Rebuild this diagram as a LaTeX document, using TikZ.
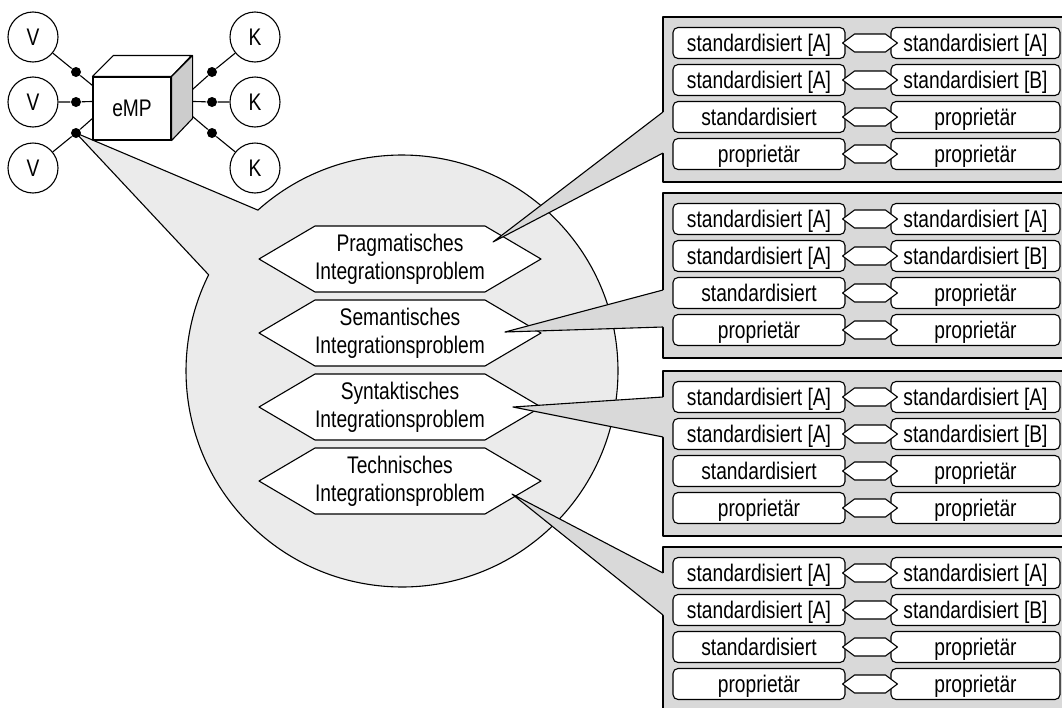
\documentclass[tikz,border=0pt]{standalone}
\usepackage{fontspec}
\setmainfont{Liberation Sans}[FakeStretch=0.8]
\usetikzlibrary{calc}
\definecolor{panelgray}{HTML}{D9D9D9}
\definecolor{circgray}{HTML}{EBEBEB}
\definecolor{facegray}{HTML}{CCCCCC}
\begin{document}
\begin{tikzpicture}[x=1pt,y=-1pt,line width=1.1pt,line join=round,
  every node/.style={font=\fontsize{24}{28}\selectfont},
  actor/.style={circle,draw,fill=white,minimum size=50pt,inner sep=0pt},
  joint/.style={circle,fill=black,minimum size=10pt,inner sep=0pt},
  rbox/.style={draw,fill=white,rounded corners=5pt,minimum height=31pt,inner sep=0pt,text height=17pt,text depth=0pt},
  hexa/.style={draw,fill=white},
  callout/.style={draw,fill=circgray},
  pointer/.style={fill=panelgray}]
\useasboundingbox (0,0) rectangle (1062,707);
\clip (0,0) rectangle (1062,707);

% big callout circle with wedge
\coordinate (C) at (402,371);
\coordinate (d3pos) at (76,133);
\path[callout] (d3pos) -- ($(C)+(228.15:216)$) arc[start angle=228.15,end angle=566.45,radius=216] -- cycle;

% actors
\node[actor] (V1) at (33,37) {V};
\node[actor] (V2) at (33,102) {V};
\node[actor] (V3) at (33,168) {V};
\node[actor] (K1) at (255,37) {K};
\node[actor] (K2) at (255,102) {K};
\node[actor] (K3) at (255,168) {K};

% cube
\node[draw,fill=white,minimum width=78pt,minimum height=63pt,inner sep=0pt] (emp) at (132,108.5) {};
\draw[fill=white] (emp.north west) -- ++(21,-21) -- ++(78,0) -- (emp.north east) -- cycle;
\draw[fill=facegray] (emp.north east) -- ++(21,-21) -- ++(0,63) -- (emp.south east) -- cycle;
\node at (emp) {eMP};

% joints
\node[joint] (d1) at (76,72) {};
\node[joint] (d2) at (76,102) {};
\node[joint] (d3) at (d3pos) {};
\node[joint] (e1) at (212,72) {};
\node[joint] (e2) at (212,102) {};
\node[joint] (e3) at (212,133) {};
\coordinate (eL1) at ($(emp.north west)+(0,9)$);
\coordinate (eL2) at ($(emp.north west)+(0,25)$);
\coordinate (eL3) at ($(emp.north west)+(0,42)$);
\coordinate (eR1) at ($(emp.north east)+(21,13)$);
\coordinate (eR2) at ($(emp.north east)+(21,25)$);
\coordinate (eR3) at ($(emp.north east)+(21,40)$);
\draw (V1) -- (d1) -- (eL1);
\draw (V2) -- (d2) -- (eL2);
\draw (V3) -- (d3) -- (eL3);
\draw (K1) -- (e1) -- (eR1);
\draw (K2) -- (e2) -- (eR2);
\draw (K3) -- (e3) -- (eR3);

% hexagons
\foreach \hy/\ta/\tb [count=\i] in {259/Pragmatisches/Integrationsproblem,333/Semantisches/Integrationsproblem,407/Syntaktisches/Integrationsproblem,481/Technisches/Integrationsproblem}{
  \coordinate (hc\i) at (400,\hy);
  \draw[hexa] ($(hc\i)+(-141,0)$) -- ($(hc\i)+(-85,-33)$) -- ($(hc\i)+(85,-33)$) -- ($(hc\i)+(141,0)$) -- ($(hc\i)+(85,33)$) -- ($(hc\i)+(-85,33)$) -- cycle;
  \node[align=center,inner sep=0pt] (h\i) at (hc\i) {\ta\\\tb};
}

% panels
\foreach \t [count=\i] in {17,193,371,547}{
  \fill[panelgray] (663,\t) rectangle (1070,\t+165);
  \draw (1070,\t) -- (663,\t) -- (663,\t+165) -- (1070,\t+165);
}

% pointers
\foreach \tx/\ty/\ba/\bb [count=\i] in {493/242/112/153,505/332/290/327,513/407/397/437,512/494/573/615}{
  \coordinate (tip\i) at (\tx,\ty);
  \fill[pointer] (tip\i) -- (663,\ba) -- (667,\ba) -- (667,\bb) -- (663,\bb) -- cycle;
  \draw (663,\ba) -- (tip\i) -- (663,\bb);
}

% rows in panels
\foreach \t [count=\i] in {17,193,371,547}{
  \foreach \lt/\rt [count=\j] in {{standardisiert [A]}/{standardisiert [A]},{standardisiert [A]}/{standardisiert [B]},{standardisiert}/{proprietär},{proprietär}/{proprietär}}{
    \pgfmathsetmacro\ry{\t+26+37*(\j-1)}
    \node[rbox,minimum width=172pt] (l\i\j) at (759,\ry) {\lt};
    \node[rbox,minimum width=169pt] (r\i\j) at (975.5,\ry) {\rt};
    \draw[hexa] ($(l\i\j.east)+(-3,0)$) -- ($(l\i\j.east)+(9,-9)$) -- ($(r\i\j.west)+(-5,-9)$) -- ($(r\i\j.west)+(7,0)$) -- ($(r\i\j.west)+(-5,9)$) -- ($(l\i\j.east)+(9,9)$) -- cycle;
  }
}
\end{tikzpicture}
\end{document}
